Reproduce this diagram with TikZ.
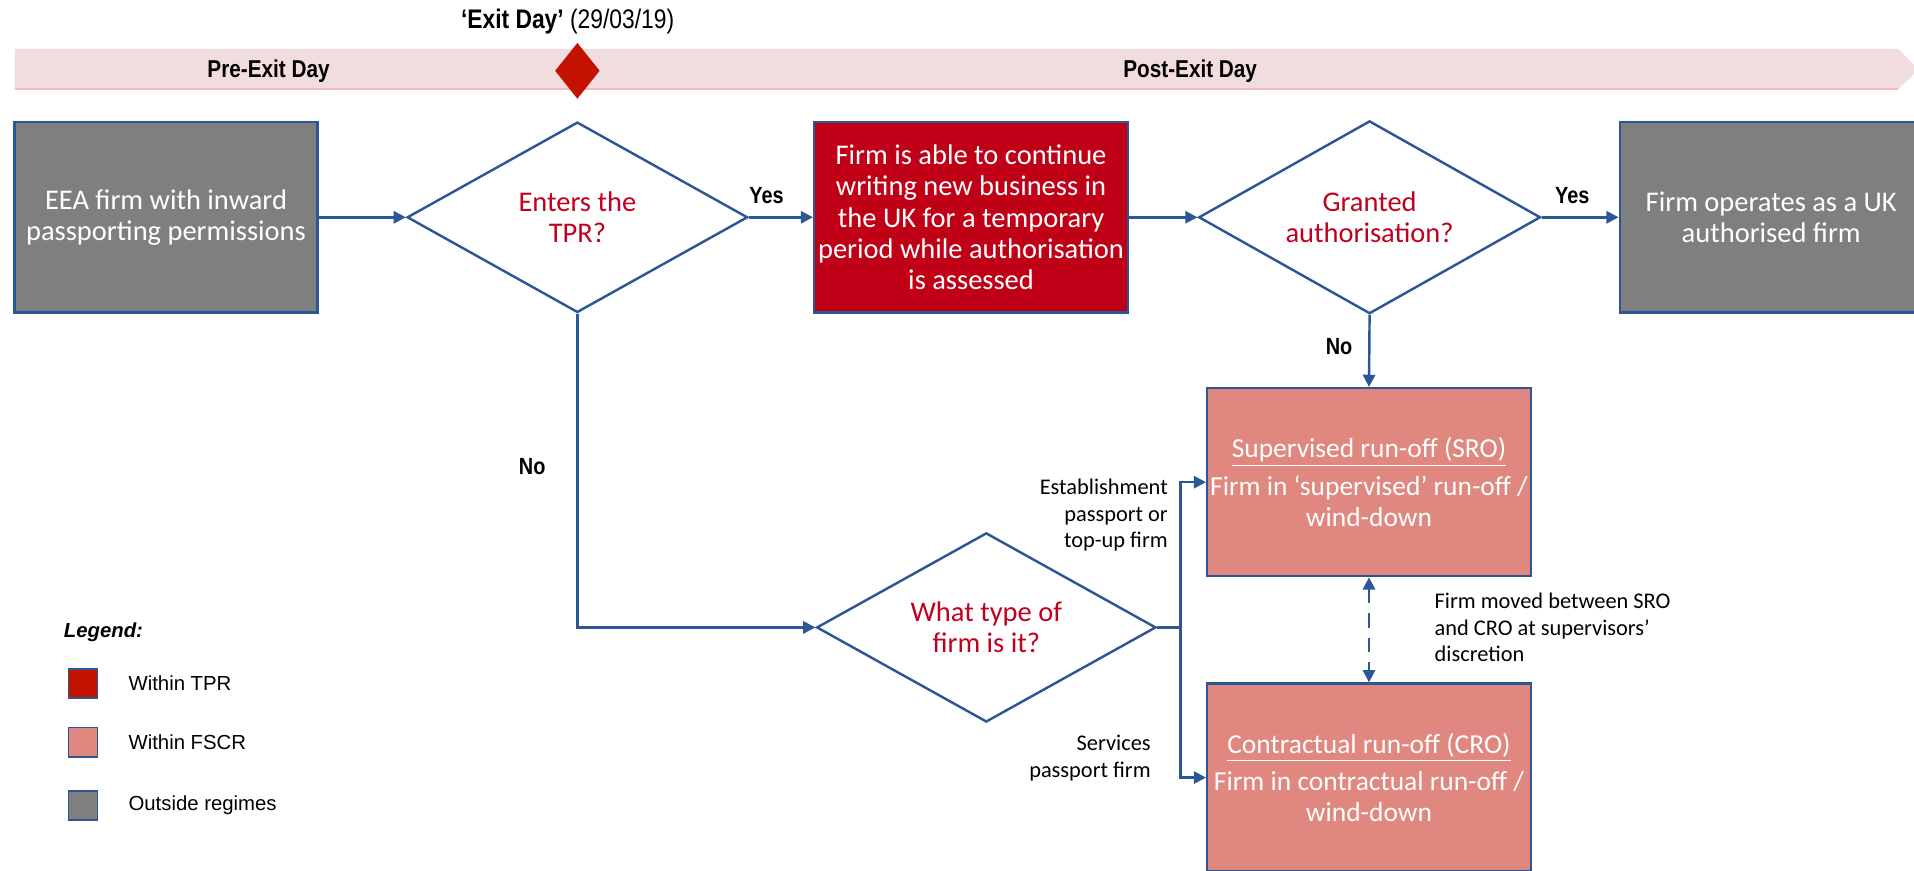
\documentclass[tikz,border=0pt]{standalone}
\usepackage{fontspec}
\setmainfont{Carlito}
\newfontfamily\arialfont{Liberation Sans}
\newfontfamily\narrowfont{Liberation Sans}[FakeStretch=0.85]
\usetikzlibrary{shapes.geometric,arrows.meta}
\definecolor{flowblue}{RGB}{44,87,150}
\definecolor{tprred}{RGB}{192,0,22}
\definecolor{fscrpink}{RGB}{224,135,128}
\definecolor{outgray}{RGB}{127,127,127}
\definecolor{qred}{RGB}{192,0,30}
\definecolor{barpink}{RGB}{242,221,222}
\definecolor{barline}{RGB}{247,185,185}
\definecolor{exitred}{RGB}{196,18,0}
\newcommand{\boxfont}{\fontsize{14}{15.3}\selectfont}
\newcommand{\runfont}{\fontsize{13.5}{15.3}\selectfont}
\newcommand{\labfont}{\narrowfont\bfseries\fontsize{11.5}{13}\selectfont}
\newcommand{\notefont}{\fontsize{11}{13}\selectfont}
\begin{document}
\begin{tikzpicture}[x=0.6pt,y=-0.6pt,
  regime/.style={draw=flowblue,line width=1.2pt,text=white,align=center,inner sep=0pt,font=\boxfont},
  question/.style={shape=diamond,aspect=1.8,draw=flowblue,line width=1.2pt,fill=white,text=qred,align=center,inner sep=0pt,font=\boxfont},
  flow/.style={draw=flowblue,line width=1.2pt,-{Triangle[length=6pt,width=6pt]}},
  link/.style={draw=flowblue,line width=1.2pt},
  answer/.style={font=\labfont},
  note/.style={font=\notefont,inner sep=0pt}]
\clip (0,0) rectangle (1568,713);
% timeline bar
\fill[barpink] (12,40) -- (1555,40) -- (1572,57) -- (1555,73) -- (12,73) -- cycle;
\draw[barline,line width=1pt] (12,73) -- (1555,73);
\node[font=\narrowfont\bfseries\fontsize{12}{14}\selectfont] (pre) at (220,58) {Pre-Exit Day};
\node[font=\narrowfont\bfseries\fontsize{12}{14}\selectfont] (post) at (975,58) {Post-Exit Day};
\node[diamond,fill=exitred,minimum width=22pt,minimum height=27.6pt,inner sep=0pt] (exit) at (473,58) {};
\node[font=\narrowfont\fontsize{13.2}{15}\selectfont] (exitlab) at (465,18) {\textbf{‘Exit Day’} (29/03/19)};
% flow
\node[regime,fill=outgray,minimum width=148.8pt,minimum height=93.6pt] (eea) at (136,178) {EEA firm with inward\\passporting permissions};
\node[question,minimum width=167.4pt,minimum height=93.6pt] (tpr) at (473,178) {Enters the\\TPR?};
\node[regime,fill=tprred,minimum width=154.2pt,minimum height=93.6pt] (temp) at (795.5,178) {Firm is able to continue\\writing new business in\\the UK for a temporary\\period while authorisation\\is assessed};
\node[question,minimum width=168pt,minimum height=94.8pt] (auth) at (1122,178) {Granted\\authorisation?};
\node[regime,fill=outgray,minimum width=148.8pt,minimum height=93.6pt] (ukfirm) at (1451,178) {Firm operates as a UK\\authorised firm};
\node[regime,font=\runfont,fill=fscrpink,minimum width=159pt,minimum height=92.4pt] (sro) at (1121.5,395) {\underline{Supervised run-off (SRO)}\\[3pt]Firm in ‘supervised’ run-off /\\wind-down};
\node[regime,font=\runfont,fill=fscrpink,minimum width=159pt,minimum height=92.4pt] (cro) at (1121.5,637) {\underline{Contractual run-off (CRO)}\\[3pt]Firm in contractual run-off /\\wind-down};
\node[question,minimum width=166.8pt,minimum height=93pt] (type) at (808,514) {What type of\\firm is it?};
\coordinate (fork) at (967,514);
\draw[flow] (eea) -- (tpr);
\draw[flow] (tpr) -- (temp);
\draw[flow] (temp) -- (auth);
\draw[flow] (auth) -- (ukfirm);
\draw[flow] (auth.south) -- (sro.north);
\draw[flow] (tpr.south) |- (type.west);
\draw[link] (type.east) -- (fork);
\draw[flow] (fork) |- (sro.west);
\draw[flow] (fork) |- (cro.west);
\draw[flow,{Triangle[length=6pt,width=6pt]}-{Triangle[length=6pt,width=6pt]},dash pattern=on 7pt off 5pt] (sro.south) -- (cro.north);
\node[answer] (yes1) at (628,160) {Yes};
\node[answer] (yes2) at (1288,160) {Yes};
\node[answer] (no1) at (436,382) {No};
\node[answer] (no2) at (1097,284) {No};
\node[note,anchor=east,align=right] (estab) at (957,422) {Establishment\\passport or\\top-up firm};
\node[note,anchor=east,align=right] (serv) at (943,621) {Services\\passport firm};
\node[note,anchor=west,align=left] (moved) at (1175,514) {Firm moved between SRO\\and CRO at supervisors’\\discretion};
% legend
\node[anchor=west,inner sep=0pt,font=\arialfont\bfseries\itshape\fontsize{10}{12}\selectfont] (legend) at (52,518) {Legend:};
\foreach \y/\c/\t in {560/exitred/Within TPR,608/fscrpink/Within FSCR,660/outgray/Outside regimes}{
  \node[draw=flowblue,line width=0.8pt,fill=\c,minimum size=14.4pt,inner sep=0pt] (key\c) at (68,\y) {};
  \node[anchor=west,inner sep=0pt,font=\arialfont\fontsize{10}{12}\selectfont] (lab\c) at (105,\y) {\t};
}
\end{tikzpicture}
\end{document}
